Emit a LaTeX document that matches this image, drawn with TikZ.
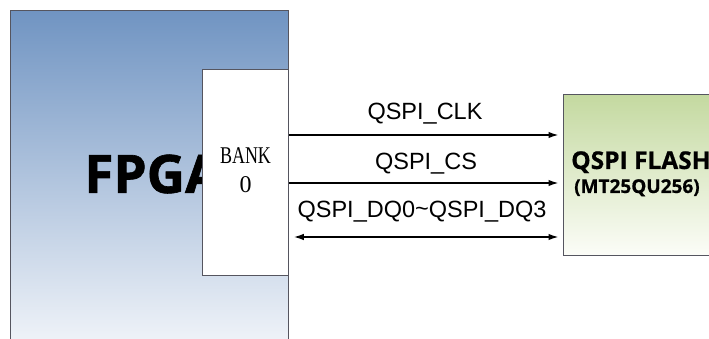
\documentclass[tikz,border=0pt]{standalone}
\usepackage{fontspec}
\setmainfont{Liberation Sans}
\newfontfamily\boldsans{Open Sans}[BoldFeatures={FakeBold=1.2}]
\newfontfamily\boldsanslight{Open Sans}[BoldFeatures={FakeBold=0.6}]
\newfontfamily\serifbank{Liberation Serif}
\usetikzlibrary{arrows.meta}
\definecolor{fpgatop}{RGB}{112,148,194}
\definecolor{fpgabot}{RGB}{250,251,253}
\definecolor{flashtop}{RGB}{196,217,160}
\definecolor{flashbot}{RGB}{252,253,248}
\definecolor{frame}{RGB}{85,85,95}
\tikzset{
  boxframe/.style={draw=frame, line width=1.3pt, inner sep=0pt, anchor=north west},
  sig/.style={line width=1.5pt, -{Latex[length=10pt,width=6.5pt]}, shorten >=4.5pt},
  bisig/.style={line width=1.5pt, {Latex[length=10pt,width=6.5pt]}-{Latex[length=10pt,width=6.5pt]}, shorten >=4.5pt, shorten <=4.5pt},
  siglabel/.style={anchor=base, inner sep=0pt, font=\fontsize{23.5}{28}\selectfont}
}
\begin{document}
\begin{tikzpicture}[x=1pt,y=-1pt]
\clip (0,0) rectangle (709,339);
\fill[white] (0,0) rectangle (709,339);
\node[boxframe, minimum width=278pt, minimum height=360pt, top color=fpgatop, bottom color=fpgabot] (fpga) at (10,10) {};
\node[inner sep=0pt, font=\boldsans\bfseries\fontsize{53}{60}\selectfont] (fpgatxt) at (153,174) {FPGA};
\node[boxframe, fill=white, minimum width=86pt, minimum height=206pt] (bank) at (202,69) {};
\node[inner sep=0pt, align=center, font=\serifbank\fontsize{24}{29}\selectfont] (banktxt) at (245.5,170) {\scalebox{0.75}[1]{BANK}\\0};
\node[boxframe, minimum width=170pt, minimum height=161pt, top color=flashtop, bottom color=flashbot] (flash) at (563,94) {};
\node[anchor=base west, inner sep=0pt, font=\boldsanslight\bfseries\fontsize{24.5}{30}\selectfont] (flashtxt) at (571,169) {QSPI FLASH};
\node[anchor=base west, inner sep=0pt, font=\boldsanslight\bfseries\fontsize{19}{24}\selectfont] (flashsub) at (574,193) {(MT25QU256)};
\coordinate (y1) at (0,135);
\coordinate (y2) at (0,183);
\coordinate (y3) at (0,237);
\draw[sig] (bank.east |- y1) -- (flash.west |- y1);
\draw[sig] (bank.east |- y2) -- (flash.west |- y2);
\draw[bisig] (bank.east |- y3) -- (flash.west |- y3);
\node[siglabel] (lclk) at (425,120) {QSPI\_CLK};
\node[siglabel] (lcs) at (426,170) {QSPI\_CS};
\node[siglabel] (ldq) at (422,218) {QSPI\_DQ0\raisebox{0.1ex}{\char`~}QSPI\_DQ3};
\end{tikzpicture}
\end{document}
